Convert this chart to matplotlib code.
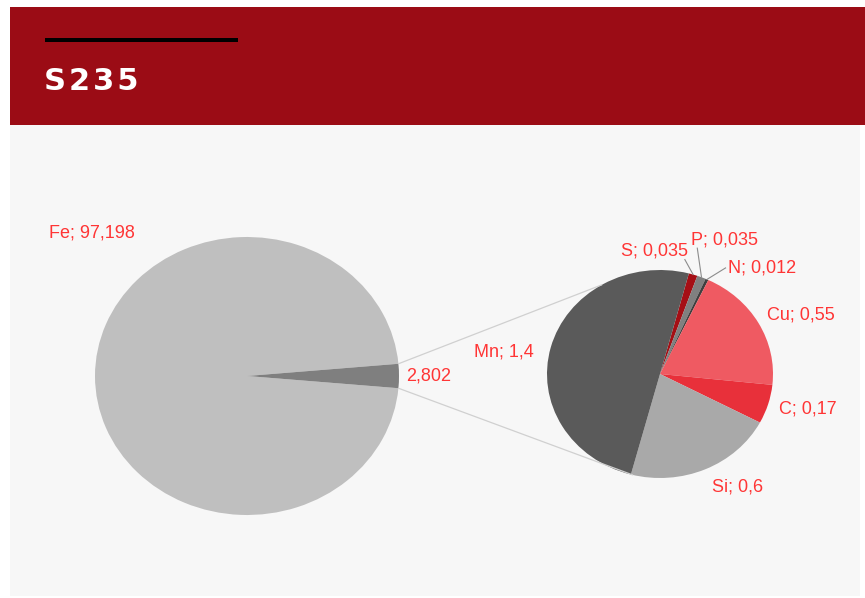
import matplotlib.pyplot as plt
from matplotlib.patches import Rectangle, ConnectionPatch
import numpy as np

# data
main_labels = ['Fe', '']
main_values = [97.198, 2.802]
main_colors = ['#bfbfbf', '#7f7f7f']

sub_labels = ['S', 'P', 'N', 'Cu', 'C', 'Si', 'Mn']
sub_values = [0.035, 0.035, 0.012, 0.55, 0.17, 0.6, 1.4]
sub_colors = ['#a50f15', '#808080', '#3f3f3f', '#ef5a62', '#e8303a', '#a9a9a9', '#5a5a5a']

title = 'S235'
W, H = 865, 598


def fx(x):
    return x / W


def fy(y):
    return 1 - y / H


fig = plt.figure(figsize=(W / 100, H / 100), dpi=100)
fig.patch.set_facecolor('white')

# background panels
fig.patches.append(Rectangle((fx(10), fy(596)), fx(850), 471 / H, transform=fig.transFigure,
                             facecolor='#f7f7f7', edgecolor='none', zorder=-3))
fig.patches.append(Rectangle((fx(10), fy(125)), fx(855), 118 / H, transform=fig.transFigure,
                             facecolor='#9b0c15', edgecolor='none', zorder=-3))
fig.patches.append(Rectangle((fx(45), fy(42)), fx(193), 4 / H, transform=fig.transFigure,
                             facecolor='black', edgecolor='none', zorder=-2))
fig.text(fx(44), fy(81), '\u200a'.join(title), color='white', fontsize=22, fontweight='bold',
         family='DejaVu Sans', va='center', ha='left')

red = '#ff3535'
fs = 13

# big pie
ax1 = fig.add_axes([fx(95), fy(515), 304 / W, 278 / H])
other_angle = main_values[1] / sum(main_values) * 360
w1, _ = ax1.pie(main_values, colors=main_colors, startangle=-other_angle / 2,
                counterclock=False, radius=1)
ax1.set_aspect('auto')
ax1.set_xlim(-1, 1)
ax1.set_ylim(-1, 1)
ax1.axis('off')
ax1.text(-1.30, 1.03, '%s; %s' % (main_labels[0], str(main_values[0]).replace('.', ',')),
         color=red, fontsize=fs, family='Liberation Sans', ha='left', va='center')
ax1.text(1.05, 0.0, str(main_values[1]).replace('.', ','),
         color=red, fontsize=fs, family='Liberation Sans', ha='left', va='center')

# small pie
ax2 = fig.add_axes([fx(547), fy(478), 226 / W, 208 / H])
total = sum(sub_values)
start = 75.2
w2, _ = ax2.pie(sub_values, colors=sub_colors, startangle=start, counterclock=False, radius=1)
ax2.set_aspect('auto')
ax2.set_xlim(-1, 1)
ax2.set_ylim(-1, 1)
ax2.axis('off')

label_pos = {
    'S': (0.25, 1.18, 'right'),
    'P': (0.27, 1.29, 'left'),
    'N': (0.60, 1.02, 'left'),
    'Cu': (0.95, 0.57, 'left'),
    'C': (1.05, -0.34, 'left'),
    'Si': (0.46, -1.09, 'left'),
    'Mn': (-1.12, 0.21, 'right'),
}
leaders = {'S': (0.22, 1.10), 'P': (0.33, 1.21), 'N': (0.58, 1.02)}

ang = start
for lab, val in zip(sub_labels, sub_values):
    span = val / total * 360
    mid = np.deg2rad(ang - span / 2)
    ang -= span
    x, y, ha = label_pos[lab]
    txt = '%s; %s' % (lab, str(val).replace('.', ','))
    ax2.text(x, y, txt, color=red, fontsize=fs, family='Liberation Sans', ha=ha, va='center')
    if lab in leaders:
        lx, ly = leaders[lab]
        ax2.plot([lx, np.cos(mid) * 1.0], [ly, np.sin(mid) * 1.0], color='#8c8c8c',
                 lw=0.8, clip_on=False)

# connector lines
half = np.deg2rad(other_angle / 2)
for sgn, tgt in [(1, 121), (-1, -104)]:
    t = np.deg2rad(tgt)
    con = ConnectionPatch(xyA=(np.cos(half), sgn * np.sin(half)), coordsA=ax1.transData,
                          xyB=(np.cos(t), np.sin(t)), coordsB=ax2.transData,
                          color='#d0d0d0', lw=0.9)
    fig.add_artist(con)

fig.savefig('out.png', dpi=100, facecolor=fig.get_facecolor())
